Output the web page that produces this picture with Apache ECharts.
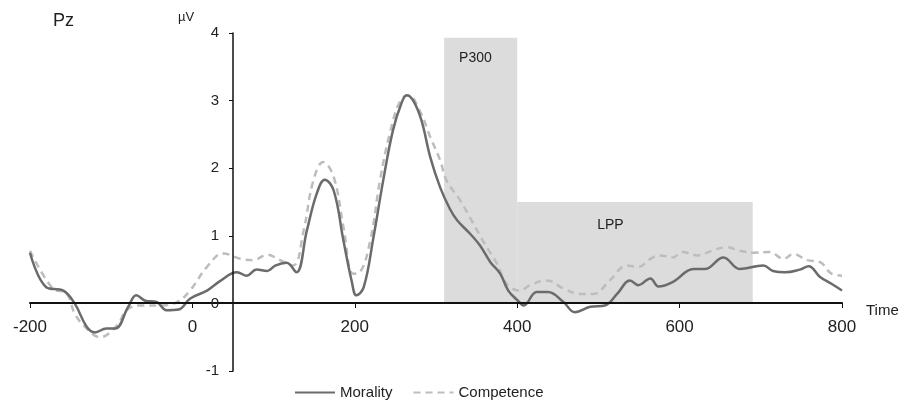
<!DOCTYPE html>
<html>
<head>
<meta charset="utf-8">
<script src="https://cdn.jsdelivr.net/npm/echarts@6/dist/echarts.min.js"></script>
<style>
    html, body { margin: 0; padding: 0; background: #fff; }
    #chart { width: 902px; height: 405px; }
</style>
</head>
<body>
<div id="chart"></div>
<script>
// time in ms, amplitude in µV
const moralityTime = [-200, -180, -159, -145, -130, -120, -106, -95, -79, -69, -58, -44, -32, -17, -3, 18, 34, 55, 67, 79, 92, 102, 116, 128, 141, 153, 163, 174, 186, 196, 202, 211, 223, 235, 247, 258, 264, 272, 282, 293, 305, 317, 326, 342, 354, 367, 379, 389, 400, 408, 424, 438, 457, 471, 490, 508, 523, 539, 549, 564, 574, 592, 617, 631, 654, 674, 703, 715, 730, 748, 759, 773, 787, 800];
const moralityUv = [0.75, 0.24, 0.19, 0.0, -0.35, -0.43, -0.37, -0.37, -0.05, 0.12, 0.04, 0.02, -0.1, -0.09, 0.07, 0.19, 0.33, 0.46, 0.41, 0.5, 0.48, 0.56, 0.6, 0.46, 1.08, 1.62, 1.83, 1.67, 0.93, 0.34, 0.12, 0.24, 0.98, 1.82, 2.56, 2.98, 3.08, 3.0, 2.71, 2.16, 1.72, 1.4, 1.23, 1.03, 0.86, 0.61, 0.44, 0.19, 0.05, -0.03, 0.17, 0.17, 0.02, -0.13, -0.05, -0.03, 0.14, 0.34, 0.27, 0.37, 0.25, 0.32, 0.51, 0.51, 0.68, 0.51, 0.56, 0.48, 0.46, 0.5, 0.55, 0.39, 0.29, 0.19];
const competenceTime = [-200, -172, -155, -145, -132, -114, -93, -81, -65, -40, -19, -3, 18, 38, 59, 75, 92, 108, 124, 137, 149, 161, 174, 186, 198, 206, 219, 231, 243, 256, 266, 280, 293, 305, 313, 330, 346, 360, 375, 387, 403, 416, 436, 457, 477, 494, 514, 535, 549, 564, 576, 592, 603, 623, 640, 658, 674, 691, 711, 728, 740, 757, 773, 787, 800];
const competenceUv = [0.78, 0.22, 0.15, -0.15, -0.35, -0.5, -0.33, -0.1, -0.03, -0.03, 0.02, 0.19, 0.54, 0.74, 0.66, 0.64, 0.72, 0.64, 0.56, 1.08, 1.82, 2.09, 1.87, 1.13, 0.44, 0.46, 0.93, 1.82, 2.51, 3.0, 3.08, 2.85, 2.46, 2.12, 1.82, 1.52, 1.18, 0.88, 0.59, 0.29, 0.19, 0.27, 0.34, 0.22, 0.14, 0.14, 0.34, 0.56, 0.54, 0.66, 0.71, 0.68, 0.76, 0.71, 0.78, 0.83, 0.78, 0.75, 0.76, 0.66, 0.73, 0.64, 0.61, 0.44, 0.41];

// shaded windows: [start, end, top]
const p300Window = [310, 400, 3.93];
const lppWindow = [400, 690, 1.5];

const xTicks = [-200, 800, 200];
const yTicks = [-1, 4, 1];

const font = 'Liberation Sans, Arial, sans-serif';

function pairs(xs, ys) {
    return xs.map((x, i) => [x, ys[i]]);
}

const chart = echarts.init(document.getElementById('chart'));

chart.setOption({
    animation: false,
    textStyle: { fontFamily: font },
    grid: {
        left: 30, right: 60, top: 33, bottom: 34,
        outerBoundsMode: 'none',
    },
    graphic: [
        {
            type: 'text', left: 53, top: 12,
            style: { text: 'Pz', font: '18px ' + font, fill: '#222' },
        },
        {
            type: 'text', left: 178, top: 11,
            style: { text: 'µV', font: '13px ' + font, fill: '#222' },
        },
    ],
    legend: {
        left: 289,
        top: 380,
        itemWidth: 40,
        itemHeight: 10,
        itemGap: 20,
        itemStyle: { opacity: 0 },
        textStyle: { fontSize: 15, color: '#222', fontFamily: font },
        data: ['Morality', 'Competence'],
    },
    xAxis: {
        type: 'value',
        position: 'bottom',
        offset: -68,
        min: xTicks[0],
        max: xTicks[1],
        interval: xTicks[2],
        z: 10,
        name: 'Time',
        nameLocation: 'end',
        nameGap: 24,
        nameTextStyle: {
            fontSize: 15, color: '#222', verticalAlign: 'top', lineHeight: 15,
        },
        axisLine: { onZero: false, lineStyle: { color: '#111', width: 2 } },
        axisTick: { show: true, length: 5, lineStyle: { color: '#111' } },
        axisLabel: { fontSize: 17, color: '#222', margin: 16 },
        splitLine: { show: false },
    },
    yAxis: {
        type: 'value',
        min: yTicks[0],
        max: yTicks[1],
        interval: yTicks[2],
        offset: -203,
        z: 10,
        axisLine: { show: true, onZero: false, lineStyle: { color: '#111', width: 1.5 } },
        axisTick: { show: true, length: 4, lineStyle: { color: '#111' } },
        axisLabel: { fontSize: 15, color: '#222', margin: 14 },
        splitLine: { show: false },
    },
    series: [
        {
            name: 'Morality',
            type: 'line',
            data: pairs(moralityTime, moralityUv),
            smooth: 0.4,
            symbol: 'none',
            z: 3,
            lineStyle: { color: '#6b6b6b', width: 2.5 },
            itemStyle: { color: '#6b6b6b' },
            markArea: {
                silent: true,
                itemStyle: { color: '#dcdcdd' },
                label: { color: '#222', fontSize: 14, fontFamily: font },
                data: [
                    [
                        {
                            name: 'P300',
                            coord: [p300Window[0], 0],
                            label: { position: 'insideTopLeft', offset: [10, 8] },
                        },
                        { coord: [p300Window[1], p300Window[2]] },
                    ],
                    [
                        {
                            name: 'LPP',
                            coord: [lppWindow[0], 0],
                            label: { position: 'insideTopLeft', offset: [75, 11] },
                        },
                        { coord: [lppWindow[1], lppWindow[2]] },
                    ],
                ],
            },
        },
        {
            name: 'Competence',
            type: 'line',
            data: pairs(competenceTime, competenceUv),
            smooth: 0.4,
            symbol: 'none',
            z: 2,
            lineStyle: { color: '#bdbdbd', width: 2.5, type: [7, 5] },
            itemStyle: { color: '#bdbdbd' },
        },
    ],
});
</script>
</body>
</html>
